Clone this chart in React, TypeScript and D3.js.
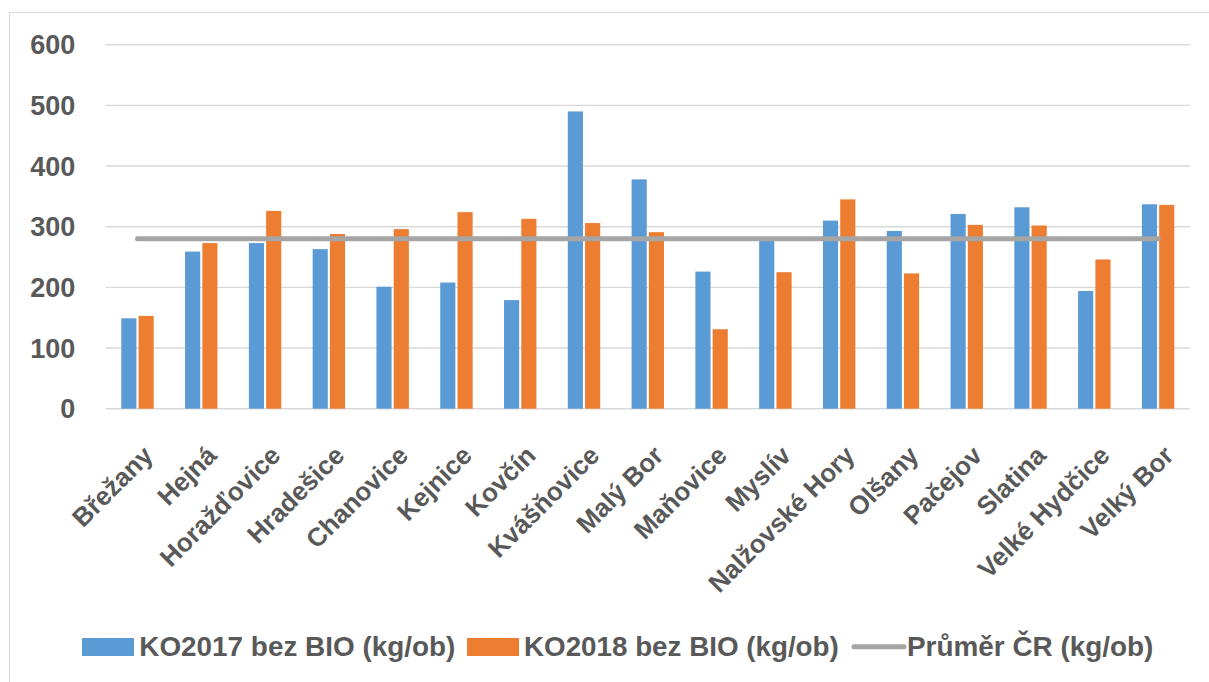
import React from "react";
import * as d3 from "d3";

const categories = ["Břežany","Hejná","Horažďovice","Hradešice","Chanovice","Kejnice","Kovčín","Kvášňovice","Malý Bor","Maňovice","Myslív","Nalžovské Hory","Olšany","Pačejov","Slatina","Velké Hydčice","Velký Bor"];
const ko2017 = [149,259,273,263,201,208,179,490,378,226,283,310,293,321,332,194,337];
const ko2018 = [153,273,326,288,296,324,313,306,291,131,225,345,223,303,302,246,336];
const prumerCR = [280,280,280,280,280,280,280,280,280,280,280,280,280,280,280,280,280];
const yTicks = [0,100,200,300,400,500,600];
const seriesNames = ["KO2017 bez BIO (kg/ob)","KO2018 bez BIO (kg/ob)","Průměr ČR (kg/ob)"];

const BLUE = "#5b9bd5";
const ORANGE = "#ed7d31";
const GRAY = "#a5a5a5";
const TEXT = "#595959";
const GRID = "#d9d9d9";
const FONT = "'Liberation Sans', Arial, sans-serif";

export default function App() {
  const W = 1209, H = 682;
  const x = d3.scaleBand<string>().domain(categories).range([105.6, 1190]);
  const y = d3.scaleLinear().domain([0, 600]).range([408.7, 44.7]);
  const inner = d3.scaleBand<string>().domain(["a", "b"]).range([-16.2, 16.2]).paddingInner(4 / 32.4);
  const bw = inner.bandwidth();
  const cx = (c: string) => (x(c) as number) + x.bandwidth() / 2;
  const line = d3.line<number>().x((_, i) => cx(categories[i])).y((d) => y(d));

  return (
    <svg width={W} height={H} style={{ position: "absolute", left: 0, top: 0, display: "block", background: "#fff" }}>
      <rect x={9.5} y={12.5} width={1300} height={800} fill="#fff" stroke={GRID} strokeWidth={1} />
      {yTicks.map((t) => (
        <g key={t}>
          <line x1={105.6} x2={1190} y1={y(t)} y2={y(t)} stroke={GRID} strokeWidth={1.4} />
          <text x={75.4} y={y(t)} dy="0.36em" textAnchor="end" fontFamily={FONT} fontWeight="bold" fontSize={27} fill={TEXT}>{t}</text>
        </g>
      ))}
      {categories.map((c, i) => (
        <g key={c}>
          <rect x={cx(c) + (inner("a") as number)} y={y(ko2017[i])} width={bw} height={y(0) - y(ko2017[i])} fill={BLUE} />
          <rect x={cx(c) + (inner("b") as number)} y={y(ko2018[i])} width={bw} height={y(0) - y(ko2018[i])} fill={ORANGE} />
        </g>
      ))}
      <path d={line(prumerCR) || ""} fill="none" stroke={GRAY} strokeWidth={5} strokeLinecap="round" />
      {categories.map((c) => (
        <text key={"l" + c} transform={`translate(${cx(c) + 17},${457}) rotate(-45)`} textAnchor="end" fontFamily={FONT} fontWeight="bold" fontSize={26} fill={TEXT}>{c}</text>
      ))}
      <g fontFamily={FONT} fontWeight="bold" fontSize={28} fill={TEXT}>
        <rect x={82} y={638} width={52} height={18} fill={BLUE} />
        <text x={139.3} y={656} textLength={316} lengthAdjust="spacingAndGlyphs">{seriesNames[0]}</text>
        <rect x={467} y={638} width={52} height={18} fill={ORANGE} />
        <text x={524} y={656} textLength={314.8} lengthAdjust="spacingAndGlyphs">{seriesNames[1]}</text>
        <line x1={854} x2={904} y1={646.7} y2={646.7} stroke={GRAY} strokeWidth={5} strokeLinecap="round" />
        <text x={907} y={656} textLength={246.4} lengthAdjust="spacingAndGlyphs">{seriesNames[2]}</text>
      </g>
    </svg>
  );
}
